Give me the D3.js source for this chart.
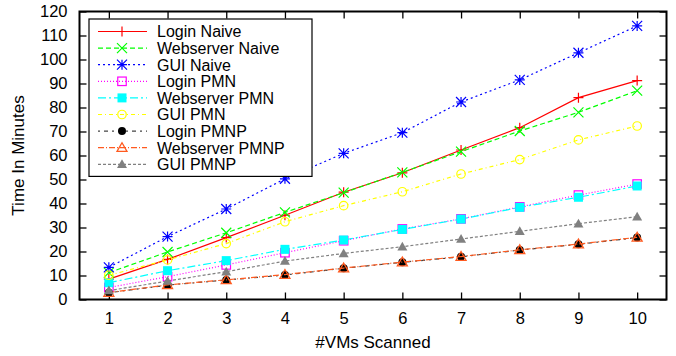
<!DOCTYPE html>
<html>
<head>
<meta charset="utf-8">
<script src="https://cdn.jsdelivr.net/npm/d3@7"></script>
<style>
  body { margin: 0; background: #fff; }
  svg text { font-family: "Liberation Sans", Arial, Helvetica, sans-serif; fill: #000; }
</style>
</head>
<body>
<div id="chart"></div>
<script>
// x values: number of VMs scanned
const vmCounts = [1, 2, 3, 4, 5, 6, 7, 8, 9, 10];

// series values (time in minutes)
const loginNaive      = [8.5, 16.7, 25.8, 35.1, 44.7, 52.8, 62.3, 71.6, 84.1, 91.2];
const webserverNaive  = [11.2, 19.8, 27.8, 36.3, 44.5, 53.0, 61.6, 70.2, 78.0, 87.0];
const guiNaive        = [13.4, 26.2, 37.7, 50.3, 60.9, 69.5, 82.3, 91.5, 102.8, 114.0];
const loginPMN        = [5.0, 9.5, 14.4, 19.5, 24.5, 29.4, 33.6, 38.6, 43.5, 48.1];
const webserverPMN    = [7.0, 12.0, 16.2, 20.9, 24.8, 29.2, 33.5, 38.4, 42.6, 47.3];
const guiPMN          = [10.1, 16.5, 23.3, 32.4, 39.1, 44.9, 52.3, 58.3, 66.5, 72.3];
const loginPMNP       = [2.8, 6.0, 8.1, 10.2, 13.0, 15.5, 17.8, 20.6, 23.0, 25.8];
const webserverPMNP   = [2.9, 6.1, 8.2, 10.4, 13.1, 15.6, 17.9, 20.7, 23.1, 25.9];
const guiPMNP         = [3.7, 7.7, 11.6, 16.0, 19.2, 22.0, 25.2, 28.4, 31.6, 34.5];

const seriesNames = ['Login Naive', 'Webserver Naive', 'GUI Naive', 'Login PMN', 'Webserver PMN',
  'GUI PMN', 'Login PMNP', 'Webserver PMNP', 'GUI PMNP'];
const seriesValues = [loginNaive, webserverNaive, guiNaive, loginPMN, webserverPMN,
  guiPMN, loginPMNP, webserverPMNP, guiPMNP];

const yTicks = [0, 10, 20, 30, 40, 50, 60, 70, 80, 90, 100, 110, 120];

// gnuplot-ish line styles
const styles = [
  { color: '#ff0000', dash: null,            marker: 'plus' },
  { color: '#00ff00', dash: '5,3',           marker: 'cross' },
  { color: '#0000ff', dash: '2,3',           marker: 'star' },
  { color: '#ff00ff', dash: '1,2',           marker: 'square' },
  { color: '#00ffff', dash: '8,3,2,3',       marker: 'squareFilled' },
  { color: '#ffff00', dash: '4,3,1,3',       marker: 'circle' },
  { color: '#000000', dash: '2,4,4,4',       marker: 'circleFilled', lineColor: '#444' },
  { color: '#ff5a1f', dash: '6,2,1,2',       marker: 'triangle' },
  { color: '#808080', dash: '3,2',           marker: 'triangleFilled' }
];

const width = 676, height = 356;
const margin = { left: 79.5, right: 9.5, top: 11.5, bottom: 56.5 };

const svg = d3.select('#chart').append('svg')
  .attr('width', width)
  .attr('height', height);

svg.append('rect').attr('width', width).attr('height', height).attr('fill', '#fff');

const x = d3.scaleLinear().domain([0.5, 10.5]).range([margin.left, width - margin.right]);
const y = d3.scaleLinear().domain([0, 120]).range([height - margin.bottom, margin.top]);

const tickLen = 7;
const g = svg.append('g');

// ticks on all four sides, pointing inwards
const xAxisB = d3.axisBottom(x).tickValues(vmCounts).tickSize(-tickLen).tickPadding(13).tickFormat(d3.format('d'));
const xAxisT = d3.axisTop(x).tickValues(vmCounts).tickSize(-tickLen).tickFormat('');
const yAxisL = d3.axisLeft(y).tickValues(yTicks).tickSize(-tickLen).tickPadding(12);
const yAxisR = d3.axisRight(y).tickValues(yTicks).tickSize(-tickLen).tickFormat('');

function styleAxis(sel) {
  sel.select('.domain').remove();
  sel.selectAll('.tick line').attr('stroke', '#000').attr('stroke-width', 1.3);
  sel.selectAll('.tick text').attr('font-size', 16.5).attr('font-family', '"Liberation Sans", Arial, sans-serif');
}

g.append('g').attr('transform', `translate(0,${y(0)})`).call(xAxisB).call(styleAxis);
g.append('g').attr('transform', `translate(0,${y(120)})`).call(xAxisT).call(styleAxis);
g.append('g').attr('transform', `translate(${x(0.5)},0)`).call(yAxisL).call(styleAxis);
g.append('g').attr('transform', `translate(${x(10.5)},0)`).call(yAxisR).call(styleAxis);

// frame
g.append('rect')
  .attr('x', x(0.5)).attr('y', y(120))
  .attr('width', x(10.5) - x(0.5)).attr('height', y(0) - y(120))
  .attr('fill', 'none').attr('stroke', '#000').attr('stroke-width', 2);

// axis titles
svg.append('text')
  .attr('x', (x(0.5) + x(10.5)) / 2).attr('y', 348)
  .attr('text-anchor', 'middle').attr('font-size', 17)
  .text('#VMs Scanned');

svg.append('text')
  .attr('transform', `translate(24,${(y(0) + y(120)) / 2}) rotate(-90)`)
  .attr('text-anchor', 'middle').attr('font-size', 17)
  .text('Time In Minutes');

function drawMarker(sel, type, color, size) {
  const h = size / 2;
  switch (type) {
    case 'plus':
      sel.append('path').attr('d', `M${-h},0H${h}M0,${-h}V${h}`).attr('stroke', color).attr('stroke-width', 1.2);
      break;
    case 'cross':
      sel.append('path').attr('d', `M${-h},${-h}L${h},${h}M${-h},${h}L${h},${-h}`).attr('stroke', color).attr('stroke-width', 1.2);
      break;
    case 'star':
      sel.append('path').attr('d', `M${-h},0H${h}M0,${-h}V${h}M${-h},${-h}L${h},${h}M${-h},${h}L${h},${-h}`)
        .attr('stroke', color).attr('stroke-width', 1.2);
      break;
    case 'square':
      sel.append('rect').attr('x', -h * 0.85).attr('y', -h * 0.85).attr('width', h * 1.7).attr('height', h * 1.7)
        .attr('fill', 'none').attr('stroke', color).attr('stroke-width', 1.2);
      break;
    case 'squareFilled':
      sel.append('rect').attr('x', -h * 0.9).attr('y', -h * 0.9).attr('width', h * 1.8).attr('height', h * 1.8)
        .attr('fill', color);
      break;
    case 'circle':
      sel.append('circle').attr('r', h * 0.85).attr('fill', 'none').attr('stroke', color).attr('stroke-width', 1.2);
      break;
    case 'circleFilled':
      sel.append('circle').attr('r', h * 0.8).attr('fill', color);
      break;
    case 'triangle':
      sel.append('path').attr('d', `M0,${-h}L${h},${h * 0.75}L${-h},${h * 0.75}Z`)
        .attr('fill', 'none').attr('stroke', color).attr('stroke-width', 1.3);
      break;
    case 'triangleFilled':
      sel.append('path').attr('d', `M0,${-h}L${h},${h * 0.75}L${-h},${h * 0.75}Z`).attr('fill', color);
      break;
  }
}

const line = d3.line().x(d => x(d[0])).y(d => y(d[1]));
const plot = svg.append('g');

seriesValues.forEach((vals, i) => {
  const st = styles[i];
  const pts = vmCounts.map((v, j) => [v, vals[j]]);
  const sg = plot.append('g');
  sg.append('path')
    .attr('d', line(pts))
    .attr('fill', 'none')
    .attr('stroke', st.lineColor || st.color)
    .attr('stroke-width', 1.2)
    .attr('stroke-dasharray', st.dash);
  pts.forEach(p => {
    const m = sg.append('g').attr('transform', `translate(${x(p[0])},${y(p[1])})`);
    drawMarker(m, st.marker, st.color, 10);
  });
});

// legend
const legend = svg.append('g');
const lgX = 89, lgY = 19, lgW = 223, rowH = 16.6;
legend.append('rect')
  .attr('x', lgX).attr('y', lgY)
  .attr('width', lgW).attr('height', rowH * seriesNames.length + 8)
  .attr('fill', '#fff').attr('stroke', '#000').attr('stroke-width', 1.2);

seriesNames.forEach((name, i) => {
  const st = styles[i];
  const cy = lgY + 12.5 + i * rowH;
  const row = legend.append('g');
  row.append('line')
    .attr('x1', lgX + 9).attr('x2', lgX + 58)
    .attr('y1', cy).attr('y2', cy)
    .attr('stroke', st.lineColor || st.color).attr('stroke-width', 1.2)
    .attr('stroke-dasharray', st.dash);
  const m = row.append('g').attr('transform', `translate(${lgX + 33},${cy})`);
  drawMarker(m, st.marker, st.color, 10);
  row.append('text')
    .attr('x', lgX + 68).attr('y', cy + 5.8)
    .attr('font-size', 16)
    .text(name);
});
</script>
</body>
</html>
